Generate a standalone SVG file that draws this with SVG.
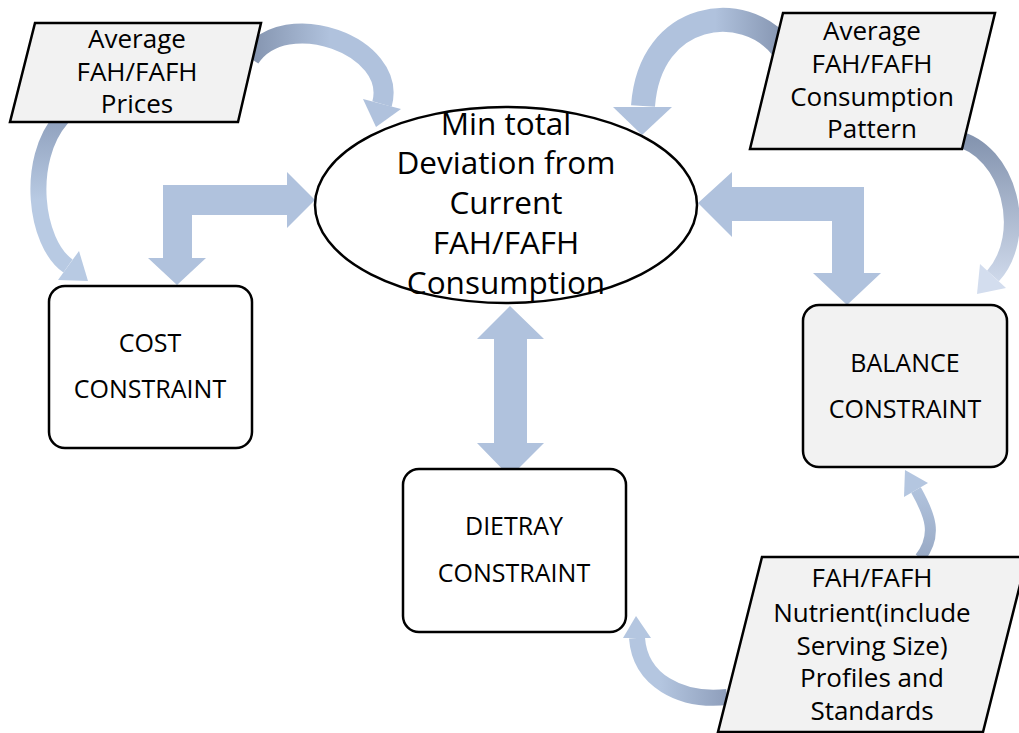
<svg xmlns="http://www.w3.org/2000/svg" width="1019" height="733" viewBox="0 0 1019 733">
<style>
.t{font-family:"Open Sans","Liberation Sans",sans-serif;fill:#000;text-anchor:middle;font-variant-ligatures:none}
.pt{font-size:26px}
.et{font-size:31.5px}
.bt{font-size:25px}
.box{stroke:#000;stroke-width:2.5}
.big{fill:#b0c2dd}
.band{fill:none}
</style>
<defs>
<linearGradient id="g1" gradientUnits="userSpaceOnUse" x1="255" y1="0" x2="330" y2="0"><stop offset="0" stop-color="#8696b1"/><stop offset="1" stop-color="#b0c2dd"/></linearGradient>
<linearGradient id="g2" gradientUnits="userSpaceOnUse" x1="0" y1="125" x2="0" y2="200"><stop offset="0" stop-color="#93a4c0"/><stop offset="1" stop-color="#b8cae3"/></linearGradient>
<linearGradient id="g3" gradientUnits="userSpaceOnUse" x1="780" y1="0" x2="715" y2="0"><stop offset="0" stop-color="#8797b3"/><stop offset="1" stop-color="#b0c2dd"/></linearGradient>
<linearGradient id="g4" gradientUnits="userSpaceOnUse" x1="0" y1="140" x2="0" y2="290"><stop offset="0" stop-color="#8595b0"/><stop offset="1" stop-color="#d3ddee"/></linearGradient>
<linearGradient id="g5" gradientUnits="userSpaceOnUse" x1="0" y1="555" x2="0" y2="480"><stop offset="0" stop-color="#9aabc6"/><stop offset="1" stop-color="#b4c6e0"/></linearGradient>
<linearGradient id="g6" gradientUnits="userSpaceOnUse" x1="727" y1="0" x2="660" y2="0"><stop offset="0" stop-color="#8e9ebb"/><stop offset="1" stop-color="#b4c6e0"/></linearGradient>
</defs>
<g id="connectors">
<polygon class="big" points="163,185 287,185 287,172 315,200 287,228 287,215 192,215 192,258 206,258 177,285 148,258 163,258"/>
<polygon class="big" points="698,203 732,172 732,187 864,187 864,273 881,273 847,305 813,273 832,273 832,221 732,221 732,237"/>
<polygon class="big" points="510,306 544,339 527,339 527,443 544,443 510,477 477,443 494,443 494,339 477,339"/>
<path class="band" d="M250 58 C285 5 398 46 382 104" stroke="url(#g1)" stroke-width="20"/>
<polygon points="401,109 363,99 376,127" fill="#b0c2dd"/>
<path class="band" d="M62 118 C25 160 35 243 68 266" stroke="url(#g2)" stroke-width="16"/>
<polygon points="58,280 79,251 88,281" fill="#b8cae3"/>
<path class="band" d="M782 48 C745 0 650 10 643 106" stroke="url(#g3)" stroke-width="24"/>
<polygon points="613,107 672,107 642,135" fill="#b0c2dd"/>
<path class="band" d="M955 138 C1010 150 1030 235 993 276" stroke="url(#g4)" stroke-width="16"/>
<polygon points="1006,288 980,264 977,294" fill="#d3ddee"/>
<path class="band" d="M920 558 C938 535 930 515 916 490" stroke="url(#g5)" stroke-width="11"/>
<polygon points="928,483 904,497 905,470" fill="#b4c6e0"/>
<path class="band" d="M727 697 C680 702 640 680 637 638" stroke="url(#g6)" stroke-width="16"/>
<polygon points="623,638 651,638 636,616" fill="#b4c6e0"/>
</g>
<g id="node-prices">
<polygon class="box" points="35,23 261,23 238,122 10,122" fill="#f2f2f2"/>
<text class="t pt" x="137" y="48">Average</text>
<text class="t pt" x="137" y="81">FAH/FAFH</text>
<text class="t pt" x="137" y="113">Prices</text>
</g>
<g id="node-pattern">
<polygon class="box" points="783,13 995,13 962,149 750,149" fill="#f2f2f2"/>
<text class="t pt" x="872" y="40">Average</text>
<text class="t pt" x="872" y="73">FAH/FAFH</text>
<text class="t pt" x="872" y="106">Consumption</text>
<text class="t pt" x="872" y="138">Pattern</text>
</g>
<g id="node-objective">
<ellipse class="box" cx="506" cy="205" rx="191" ry="98" fill="#fff"/>
<text class="t et" x="506" y="135">Min total</text>
<text class="t et" x="506" y="174">Deviation from</text>
<text class="t et" x="506" y="214">Current</text>
<text class="t et" x="506" y="254">FAH/FAFH</text>
<text class="t et" x="506" y="294">Consumption</text>
</g>
<g id="node-cost">
<rect class="box" x="49" y="286" width="203" height="162" rx="16" fill="#fff"/>
<text class="t bt" x="150" y="352">COST</text>
<text class="t bt" x="150" y="398">CONSTRAINT</text>
</g>
<g id="node-balance">
<rect class="box" x="803" y="305" width="204" height="162" rx="16" fill="#f2f2f2"/>
<text class="t bt" x="905" y="372">BALANCE</text>
<text class="t bt" x="905" y="418">CONSTRAINT</text>
</g>
<g id="node-dietary">
<rect class="box" x="403" y="469" width="223" height="163" rx="16" fill="#fff"/>
<text class="t bt" x="514" y="535">DIETRAY</text>
<text class="t bt" x="514" y="582">CONSTRAINT</text>
</g>
<g id="node-nutrient">
<polygon class="box" points="762,557 1027,557 983,732 718,732" fill="#f2f2f2"/>
<text class="t pt" x="872" y="587">FAH/FAFH</text>
<text class="t pt" x="872" y="622">Nutrient(include</text>
<text class="t pt" x="872" y="655">Serving Size)</text>
<text class="t pt" x="872" y="687">Profiles and</text>
<text class="t pt" x="872" y="720">Standards</text>
</g>
</svg>
